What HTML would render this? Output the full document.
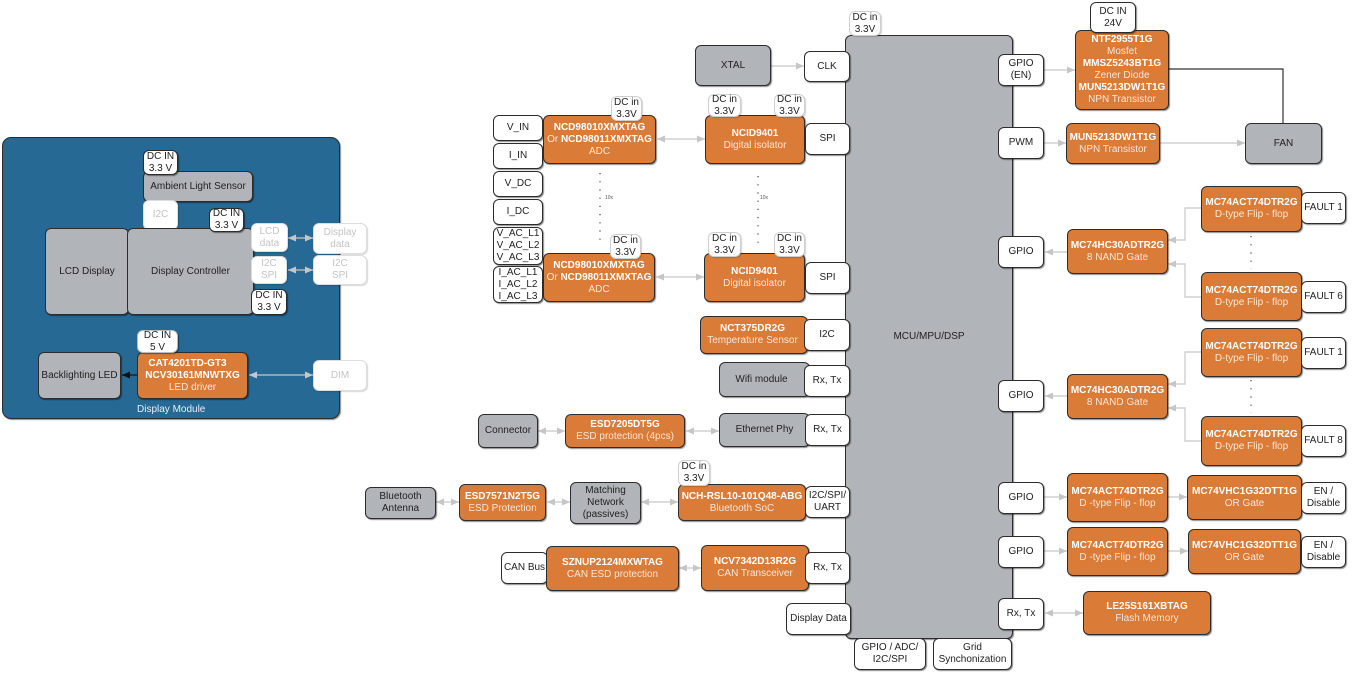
<!DOCTYPE html>
<html><head><meta charset="utf-8"><style>
html,body{margin:0;padding:0;background:#fff}
#p{position:relative;width:1352px;height:675px;overflow:hidden;background:#fff;font:10px/12px "Liberation Sans",sans-serif;color:#222}
.n{position:absolute;box-sizing:border-box;display:flex;flex-direction:column;align-items:center;justify-content:center;text-align:center;border:1px solid #2c2c2c;border-radius:6px;box-shadow:1px 1px 1px rgba(0,0,0,.45);white-space:nowrap}
.g{background:#b1b4b9}
.o{background:#da7c38;color:#f9e6d8}
.o b{color:#fff}
.w{background:#fff}
.l{background:#fff;border-color:#cfcfcf;box-shadow:1px 1px 1px rgba(0,0,0,.18)}
.f{background:#fff;border-color:#ddd;color:#c4c4c4;box-shadow:1px 1px 1px rgba(0,0,0,.15)}
b{font-weight:bold}
svg{position:absolute;left:0;top:0}
.t{position:absolute;white-space:nowrap}
</style></head><body><div id="p">
<div class="n" style="left:2px;top:137px;width:338px;height:282px;background:#266995;border-radius:9px"></div>

<svg width="1352" height="675" style="z-index:1">
<defs>
<marker id="a" markerUnits="userSpaceOnUse" markerWidth="9" markerHeight="7" refX="8" refY="3.5" orient="auto-start-reverse"><path d="M0 0L8 3.5L0 7z" fill="#c6c6c6"/></marker>
<marker id="k" markerUnits="userSpaceOnUse" markerWidth="9" markerHeight="7" refX="8" refY="3.5" orient="auto"><path d="M0 0L8 3.5L0 7z" fill="#111"/></marker>
</defs>
<g fill="none" stroke="#c8c8c8" stroke-width="1.2">
<path marker-start="url(#a)" marker-end="url(#a)" d="M288 238H313"/>
<path marker-start="url(#a)" marker-end="url(#a)" d="M288 270H313"/>
<path marker-start="url(#a)" marker-end="url(#a)" d="M249 375H313"/>
<path marker-start="url(#a)" marker-end="url(#a)" d="M657 139H705"/>
<path marker-start="url(#a)" marker-end="url(#a)" d="M656 277H704"/>
<path marker-end="url(#a)" d="M771 66H804"/>
<path marker-start="url(#a)" marker-end="url(#a)" d="M538 431H565"/>
<path marker-start="url(#a)" marker-end="url(#a)" d="M686 431H719"/>
<path marker-start="url(#a)" marker-end="url(#a)" d="M436 502H459"/>
<path marker-start="url(#a)" marker-end="url(#a)" d="M547 502H570"/>
<path marker-start="url(#a)" marker-end="url(#a)" d="M641 502H678"/>
<path marker-start="url(#a)" marker-end="url(#a)" d="M679 568H701"/>
<path marker-end="url(#a)" d="M1044 70H1075"/>
<path marker-end="url(#a)" d="M1044 143H1066"/>
<path marker-end="url(#a)" d="M1159 143H1245"/>
<path marker-end="url(#a)" d="M1067 252H1045"/>
<path marker-end="url(#a)" d="M1067 396H1045"/>
<path marker-end="url(#a)" d="M1201 208H1185V240H1168"/>
<path marker-end="url(#a)" d="M1201 297H1185V264H1168"/>
<path marker-end="url(#a)" d="M1201 352H1185V384H1168"/>
<path marker-end="url(#a)" d="M1201 441H1185V408H1168"/>
<path marker-end="url(#a)" d="M1044 497H1067"/>
<path marker-end="url(#a)" d="M1168 497H1187"/>
<path marker-end="url(#a)" d="M1044 551H1067"/>
<path marker-end="url(#a)" d="M1168 551H1188"/>
<path marker-start="url(#a)" marker-end="url(#a)" d="M1045 613H1083"/>
</g>
<path d="M137 375H122" stroke="#111" stroke-width="1.2" fill="none" marker-end="url(#k)"/>
<path d="M1168 69H1283V123" stroke="#333" stroke-width="1.2" fill="none"/>
<g fill="none" stroke="#444" stroke-width="1.2" stroke-dasharray="1.2 7">
<path d="M600 173V246M758 176V248M1251 236V269M1251 380V413"/>
</g>
<text x="605" y="199" font-family="Liberation Sans" font-size="5" fill="#555">10x</text>
<text x="760" y="199" font-family="Liberation Sans" font-size="5" fill="#555">10x</text>
</svg>

<div style="position:absolute;left:0;top:0;z-index:2">
<div class="t" style="left:137px;top:404px;color:#e8eef3">Display Module</div>
<!-- display module -->
<div class="n g" style="left:143px;top:171px;width:110px;height:31px">Ambient Light Sensor</div>
<div class="n w" style="left:143px;top:150px;width:35px;height:25px">DC IN<span>3.3 V</span></div>
<div class="n f" style="left:143px;top:200px;width:35px;height:30px">I2C</div>
<div class="n g" style="left:45px;top:228px;width:84px;height:87px">LCD Display</div>
<div class="n g" style="left:127px;top:228px;width:127px;height:87px">Display Controller</div>
<div class="n w" style="left:209px;top:208px;width:35px;height:24px">DC IN<span>3.3 V</span></div>
<div class="n f" style="left:251px;top:223px;width:37px;height:29px">LCD<span>data</span></div>
<div class="n f" style="left:313px;top:223px;width:54px;height:31px">Display<span>data</span></div>
<div class="n f" style="left:251px;top:256px;width:36px;height:28px">I2C<span>SPI</span></div>
<div class="n f" style="left:313px;top:255px;width:54px;height:30px">I2C<span>SPI</span></div>
<div class="n w" style="left:251px;top:289px;width:36px;height:26px">DC IN<span>3.3 V</span></div>
<div class="n g" style="left:38px;top:352px;width:83px;height:47px">Backlighting LED</div>
<div class="n o" style="left:137px;top:352px;width:111px;height:47px"><b style="margin-right:10px">CAT4201TD-GT3</b><b>NCV30161MNWTXG</b><span>LED driver</span></div>
<div class="n w" style="left:137px;top:330px;width:41px;height:23px;border-color:#bbb">DC IN<span>5 V</span></div>
<div class="n f" style="left:313px;top:360px;width:54px;height:31px">DIM</div>

<!-- MCU -->
<div class="n g" style="left:845px;top:35px;width:168px;height:604px">MCU/MPU/DSP</div>
<div class="n l" style="left:849px;top:11px;width:32px;height:25px">DC in<span>3.3V</span></div>

<!-- ADC column -->
<div class="n w" style="left:493px;top:115px;width:50px;height:26px">V_IN</div>
<div class="n w" style="left:493px;top:143px;width:50px;height:26px">I_IN</div>
<div class="n w" style="left:493px;top:171px;width:50px;height:26px">V_DC</div>
<div class="n w" style="left:493px;top:199px;width:50px;height:26px">I_DC</div>
<div class="n w" style="left:493px;top:227px;width:50px;height:38px">V_AC_L1<span>V_AC_L2</span><span>V_AC_L3</span></div>
<div class="n w" style="left:493px;top:266px;width:50px;height:37px">I_AC_L1<span>I_AC_L2</span><span>I_AC_L3</span></div>
<div class="n o" style="left:543px;top:115px;width:113px;height:49px"><b>NCD98010XMXTAG</b><span>Or <b>NCD98011XMXTAG</b></span><span>ADC</span></div>
<div class="n l" style="left:611px;top:96px;width:31px;height:25px">DC in<span>3.3V</span></div>
<div class="n o" style="left:543px;top:253px;width:112px;height:49px"><b>NCD98010XMXTAG</b><span>Or <b>NCD98011XMXTAG</b></span><span>ADC</span></div>
<div class="n l" style="left:610px;top:234px;width:31px;height:25px">DC in<span>3.3V</span></div>

<div class="n o" style="left:705px;top:115px;width:100px;height:49px"><b>NCID9401</b><span>Digital isolator</span></div>
<div class="n l" style="left:708px;top:94px;width:33px;height:23px">DC in<span>3.3V</span></div>
<div class="n l" style="left:774px;top:94px;width:31px;height:23px">DC in<span>3.3V</span></div>
<div class="n w" style="left:805px;top:123px;width:45px;height:32px">SPI</div>
<div class="n o" style="left:704px;top:253px;width:101px;height:49px"><b>NCID9401</b><span>Digital isolator</span></div>
<div class="n l" style="left:708px;top:232px;width:33px;height:25px">DC in<span>3.3V</span></div>
<div class="n l" style="left:774px;top:232px;width:31px;height:25px">DC in<span>3.3V</span></div>
<div class="n w" style="left:805px;top:262px;width:45px;height:32px">SPI</div>

<div class="n g" style="left:695px;top:45px;width:76px;height:41px">XTAL</div>
<div class="n w" style="left:804px;top:51px;width:46px;height:31px">CLK</div>

<div class="n o" style="left:700px;top:316px;width:108px;height:38px;padding-right:3px"><b>NCT375DR2G</b><span>Temperature Sensor</span></div>
<div class="n w" style="left:804px;top:319px;width:46px;height:32px">I2C</div>
<div class="n g" style="left:719px;top:362px;width:91px;height:35px;padding-right:6px">Wifi module</div>
<div class="n w" style="left:804px;top:365px;width:46px;height:32px">Rx, Tx</div>

<div class="n g" style="left:478px;top:414px;width:60px;height:34px">Connector</div>
<div class="n o" style="left:565px;top:414px;width:120px;height:34px"><b>ESD7205DT5G</b><span>ESD protection (4pcs)</span></div>
<div class="n g" style="left:719px;top:413px;width:91px;height:34px">Ethernet Phy</div>
<div class="n w" style="left:805px;top:414px;width:45px;height:32px">Rx, Tx</div>

<div class="n g" style="left:365px;top:487px;width:71px;height:32px">Bluetooth<span>Antenna</span></div>
<div class="n o" style="left:459px;top:484px;width:87px;height:37px"><b>ESD7571N2T5G</b><span>ESD Protection</span></div>
<div class="n g" style="left:570px;top:482px;width:71px;height:42px">Matching<span>Network</span><span>(passives)</span></div>
<div class="n o" style="left:678px;top:484px;width:128px;height:37px"><b>NCH-RSL10-101Q48-ABG</b><span>Bluetooth SoC</span></div>
<div class="n l" style="left:678px;top:460px;width:32px;height:26px">DC in<span>3.3V</span></div>
<div class="n w" style="left:805px;top:486px;width:45px;height:32px">I2C/SPI/<span>UART</span></div>

<div class="n w" style="left:501px;top:552px;width:47px;height:32px">CAN Bus</div>
<div class="n o" style="left:546px;top:546px;width:133px;height:45px"><b>SZNUP2124MXWTAG</b><span>CAN ESD protection</span></div>
<div class="n o" style="left:701px;top:545px;width:108px;height:46px"><b>NCV7342D13R2G</b><span>CAN Transceiver</span></div>
<div class="n w" style="left:805px;top:552px;width:45px;height:32px">Rx, Tx</div>
<div class="n w" style="left:786px;top:603px;width:65px;height:32px">Display Data</div>
<div class="n w" style="left:854px;top:638px;width:72px;height:32px">GPIO / ADC/<span>I2C/SPI</span></div>
<div class="n w" style="left:933px;top:638px;width:79px;height:32px">Grid<span>Synchonization</span></div>

<!-- right -->
<div class="n w" style="left:998px;top:54px;width:46px;height:32px">GPIO<span>(EN)</span></div>
<div class="n w" style="left:998px;top:127px;width:46px;height:32px">PWM</div>
<div class="n o" style="left:1075px;top:30px;width:94px;height:80px"><b>NTF2955T1G</b><span>Mosfet</span><b>MMSZ5243BT1G</b><span>Zener Diode</span><b>MUN5213DW1T1G</b><span>NPN Transistor</span></div>
<div class="n w" style="left:1090px;top:2px;width:46px;height:31px">DC IN<span>24V</span></div>
<div class="n o" style="left:1066px;top:123px;width:94px;height:41px"><b>MUN5213DW1T1G</b><span>NPN Transistor</span></div>
<div class="n g" style="left:1245px;top:123px;width:77px;height:41px">FAN</div>

<div class="n w" style="left:998px;top:236px;width:46px;height:32px">GPIO</div>
<div class="n o" style="left:1067px;top:229px;width:101px;height:45px"><b>MC74HC30ADTR2G</b><span>8 NAND Gate</span></div>
<div class="n o" style="left:1201px;top:186px;width:101px;height:46px"><b>MC74ACT74DTR2G</b><span>D-type Flip - flop</span></div>
<div class="n w" style="left:1301px;top:192px;width:45px;height:32px">FAULT 1</div>
<div class="n o" style="left:1201px;top:272px;width:101px;height:49px"><b>MC74ACT74DTR2G</b><span>D-type Flip - flop</span></div>
<div class="n w" style="left:1301px;top:281px;width:45px;height:32px">FAULT 6</div>

<div class="n w" style="left:998px;top:380px;width:46px;height:32px">GPIO</div>
<div class="n o" style="left:1067px;top:374px;width:101px;height:45px"><b>MC74HC30ADTR2G</b><span>8 NAND Gate</span></div>
<div class="n o" style="left:1201px;top:328px;width:101px;height:49px"><b>MC74ACT74DTR2G</b><span>D-type Flip - flop</span></div>
<div class="n w" style="left:1301px;top:337px;width:45px;height:32px">FAULT 1</div>
<div class="n o" style="left:1201px;top:416px;width:101px;height:50px"><b>MC74ACT74DTR2G</b><span>D-type Flip - flop</span></div>
<div class="n w" style="left:1301px;top:425px;width:45px;height:32px">FAULT 8</div>

<div class="n w" style="left:998px;top:482px;width:46px;height:32px">GPIO</div>
<div class="n o" style="left:1067px;top:473px;width:101px;height:49px"><b>MC74ACT74DTR2G</b><span>D -type Flip - flop</span></div>
<div class="n o" style="left:1187px;top:475px;width:115px;height:45px"><b>MC74VHC1G32DTT1G</b><span>OR Gate</span></div>
<div class="n w" style="left:1301px;top:482px;width:45px;height:32px">EN /<span>Disable</span></div>

<div class="n w" style="left:998px;top:536px;width:46px;height:32px">GPIO</div>
<div class="n o" style="left:1067px;top:527px;width:101px;height:49px"><b>MC74ACT74DTR2G</b><span>D -type Flip - flop</span></div>
<div class="n o" style="left:1188px;top:529px;width:113px;height:45px"><b>MC74VHC1G32DTT1G</b><span>OR Gate</span></div>
<div class="n w" style="left:1301px;top:536px;width:45px;height:32px">EN /<span>Disable</span></div>

<div class="n w" style="left:998px;top:598px;width:46px;height:32px">Rx, Tx</div>
<div class="n o" style="left:1083px;top:591px;width:128px;height:44px"><b>LE25S161XBTAG</b><span>Flash Memory</span></div>
</div>
</div></body></html>
